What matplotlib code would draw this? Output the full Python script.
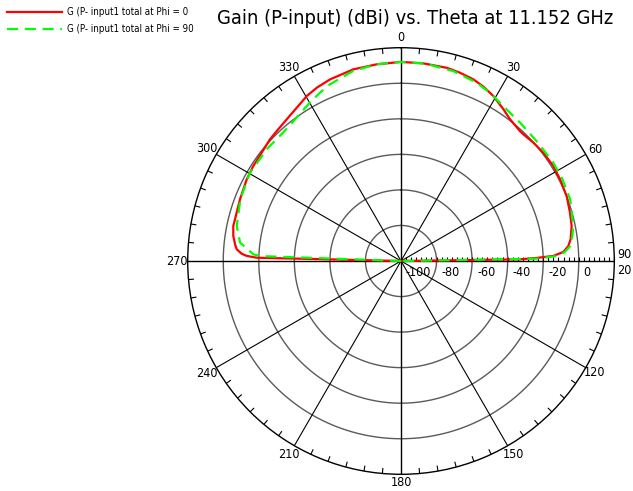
import numpy as np
import matplotlib
matplotlib.use("Agg")
import matplotlib.pyplot as plt
from matplotlib.lines import Line2D

# ---------------- data ----------------
title = "Gain (P-input) (dBi) vs. Theta at 11.152 GHz"
legend_labels = ["G (P- input1 total at Phi = 0", "G (P- input1 total at Phi = 90"]

theta_phi0 = [-90, -88.7, -88.1, -87.4, -85.9, -84.3, -81.5, -78.2, -75.9, -69, -62.1, -57.3,
              -52.1, -47.1, -43, -38.9, -34.2, -29.7, -25.9, -21.3, -14, -7, 0, 6.4, 13.3,
              17.4, 21.7, 25.3, 29.2, 34, 37.6, 42.5, 44, 48.2, 52.7, 58, 62.8, 68.6, 74,
              78.4, 82.7, 84.9, 86.8, 88.1, 88.7, 89.2, 90]
gain_phi0 = [-100, -18.8, -13.1, -10.3, -7.3, -6.2, -4.6, -3.6, -3.7, -3.0, -1.8, -1.2,
             -0.7, 0.6, 1.3, 2.4, 4.3, 6.9, 8.4, 9.7, 11.1, 11.5, 12.0, 11.9, 11.7,
             11.0, 10.0, 8.5, 6.4, 3.0, 0.6, -0.9, -0.9, -0.1, 0.6, 1.0, 0.6, 0.1, -1.1,
             -2.0, -3.8, -5.5, -8.5, -14.3, -23.7, -33, -100]

theta_phi90 = [-90, -88, -87.4, -83.5, -78, -69, -60, -50, -45.6, -40, -35.7, -29.6, -25.5,
               -22, -14, -7, 0, 7, 15.4, 23, 28, 32, 36, 40.7, 48.5, 57, 63, 70, 78.5, 82,
               85, 87, 88.2, 89, 90]
gain_phi90 = [-100, -20.7, -16.8, -8.9, -5.5, -3.2, -1.6, -1.7, -2.1, -1.5, 0.0, 3.0, 5.2,
              7.1, 10.3, 11.5, 12.0, 11.9, 10.8, 9.0, 7.0, 5.0, 3.6, 2.7, 1.8, 2.0, 1.8,
              1.3, -1.1, -2.7, -4.5, -8.0, -12.4, -23.7, -100]

r_min, r_max = -100, 20
r_circles = [-80, -60, -40, -20, 0]
r_labels = ["-100", "-80", "-60", "-40", "-20", "0", "20"]
theta_label_angles = [0, 30, 60, 90, 120, 150, 180, 210, 240, 270, 300, 330]

# ---------------- style ----------------
plt.rcParams["font.family"] = ["DejaVu Sans"]
plt.rcParams["font.stretch"] = "condensed"

W, H, DPI = 633, 491, 100
fig = plt.figure(figsize=(W / DPI, H / DPI), dpi=DPI)
cx, cy, R = 401.0, 261.0, 213.3
ax = fig.add_axes([(cx - R) / W, (H - cy - R) / H, 2 * R / W, 2 * R / H], projection="polar")
ax.set_theta_zero_location("N")
ax.set_theta_direction(-1)
ax.grid(False)
ax.set_xticks([])
ax.set_yticks([])
ax.spines["polar"].set_color("black")
ax.spines["polar"].set_linewidth(1.0)

full = np.linspace(0, 2 * np.pi, 721)
for rc in r_circles:
    ax.plot(full, np.full_like(full, rc), color="#5a5a5a", lw=1.0, zorder=1)

# spokes
for a in range(0, 360, 30):
    t = np.deg2rad(a)
    main = a % 90 == 0
    ax.plot([t, t], [r_min, r_max], color="black", lw=1.0 if main else 0.8, zorder=1)

# outer ticks every 5 deg (inward)
px_per_db = R / (r_max - r_min)
tick_len = 5 / px_per_db
for a in range(0, 360, 5):
    if a % 30 == 0:
        continue
    t = np.deg2rad(a)
    ax.plot([t, t], [r_max - tick_len, r_max], color="black", lw=0.8, zorder=1)

# radial minor ticks along the 90 deg axis
rt = np.linspace(r_min, r_max, 6 * 7 + 1)
ax.plot(np.full_like(rt, np.pi / 2), rt, linestyle="none", marker=2, markersize=2.6,
        markeredgewidth=0.8, color="black", zorder=2, clip_on=False)

# curves
ax.plot(np.deg2rad(theta_phi0), gain_phi0, color="#ff0000", lw=1.6, zorder=3)
ax.plot(np.deg2rad(theta_phi90), gain_phi90, color="#00ff00", lw=1.6,
        dashes=(5, 3), zorder=4)

ax.set_ylim(r_min, r_max)

# theta labels
lab_r = r_min + 224 / px_per_db
for a in theta_label_angles:
    t = np.deg2rad(a)
    if a == 90:
        ax.annotate("90", xy=(t, r_max), xytext=(3, 6), textcoords="offset pixels",
                    ha="left", va="center", fontsize=9, annotation_clip=False)
        continue
    rr = lab_r if a != 180 else r_min + 222 / px_per_db
    ax.text(t, rr, str(a), ha="center", va="center", fontsize=9, clip_on=False)

# radial labels
r_vals = [r_min] + r_circles + [r_max]
for v, s in zip(r_vals, r_labels):
    if v == r_max:
        off = (3, -9)
    elif v == r_min:
        off = (4, -12)
    else:
        off = (5, -12)
    ax.annotate(s, xy=(np.pi / 2, v), xytext=off, textcoords="offset pixels",
                ha="left", va="center", fontsize=9, annotation_clip=False)

# title
fig.text(415 / W, 1 - 19 / H, title, ha="center", va="center", fontsize=14.4)

# legend
for i, (lab, col) in enumerate(zip(legend_labels, ["#ff0000", "#00ff00"])):
    yy = 1 - (12 + 17 * i) / H
    kw = dict(color=col, lw=1.6)
    if i == 1:
        kw["dashes"] = (5, 3)
    fig.add_artist(Line2D([7 / W, 62 / W], [yy, yy], transform=fig.transFigure, **kw))
    fig.text(67 / W, yy, lab, ha="left", va="center", fontsize=7.0)

fig.savefig("out.png", dpi=DPI)
